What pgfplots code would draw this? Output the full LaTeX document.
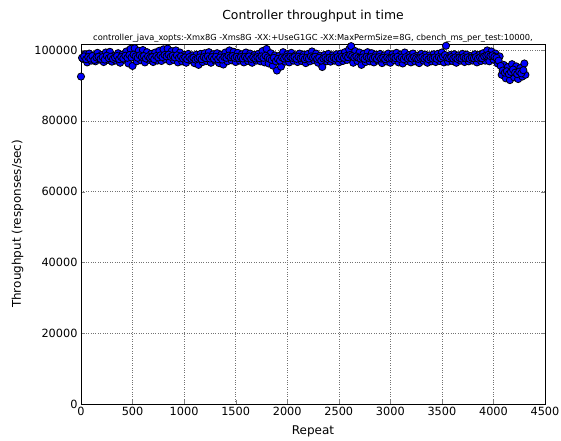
\documentclass[border=0pt]{standalone}
\usepackage{pgfplots}
\pgfplotsset{compat=1.18}
\usepackage{fontspec}
\setmainfont{DejaVu Sans}
\begin{document}
\begin{tikzpicture}
\useasboundingbox (-81pt,-36pt) rectangle (480pt,404pt);
\begin{axis}[
  at={(0,0)}, anchor=south west,
  scale only axis, width=464pt, height=360pt,
  xmin=0, xmax=4500, ymin=0, ymax=101700,
  scaled ticks=false,
  xtick={0,500,1000,1500,2000,2500,3000,3500,4000,4500},
  xticklabels={0,500,1000,1500,2000,2500,3000,3500,4000,4500},
  ytick={0,20000,40000,60000,80000,100000},
  yticklabels={0,20000,40000,60000,80000,100000},
  xticklabel style={font=\fontsize{11.3}{13}\selectfont},
  yticklabel style={font=\fontsize{11.3}{13}\selectfont},
  tick align=inside, tick pos=both,
  major tick length=4pt,
  grid=major, grid style={black!55, dotted, line width=0.5pt},
  axis line style={black, line width=0.8pt},
  xlabel={Repeat}, ylabel={Throughput (responses/sec)},
  label style={font=\fontsize{12}{14}\selectfont},
  xlabel style={yshift=-3pt},
  ylabel style={yshift=4pt},
  clip=false,
]
\addplot[only marks, mark=*, mark size=3.6pt, mark options={fill=blue, draw=black, line width=0.8pt}] coordinates {
(0,92500)(20,97500)(40,98800)(60,96500)(80,99000)(100,97000)(120,98500)(140,96800)(160,99200)(180,97300)
(200,98600)(220,96600)(240,99300)(260,97200)(280,99500)(300,96700)(320,98400)(340,97000)(360,99100)(380,96400)
(400,98700)(420,97300)(440,99600)(460,96200)(480,100300)(500,95500)(520,100500)(540,96800)(560,99800)(580,97100)
(600,100000)(620,96500)(640,99400)(660,97200)(680,98900)(700,96600)(720,99300)(740,97000)(760,99800)(780,96900)
(800,100200)(820,97400)(840,100400)(860,96800)(880,99700)(900,97200)(920,99900)(940,96500)(960,99300)(980,96800)
(1000,98600)(1020,96400)(1040,98900)(1060,97100)(1080,98500)(1100,96300)(1120,98700)(1140,95800)(1160,98900)(1180,96600)
(1200,99100)(1220,96900)(1240,99400)(1260,96400)(1280,98800)(1300,97000)(1320,99100)(1340,96300)(1360,98700)(1380,95900)
(1400,99300)(1420,96800)(1440,99900)(1460,97100)(1480,99500)(1500,96600)(1520,99200)(1540,97000)(1560,98800)(1580,96500)
(1600,99300)(1620,96900)(1640,99000)(1660,96400)(1680,98600)(1700,97000)(1720,98900)(1740,96800)(1760,99700)(1780,96500)
(1800,100300)(1820,96200)(1840,99100)(1860,95600)(1880,98500)(1900,94200)(1920,98300)(1940,95300)(1960,99400)(1980,96700)
(2000,98800)(2020,96500)(2040,99200)(2060,97000)(2080,98500)(2100,96600)(2120,99000)(2140,96900)(2160,98700)(2180,96300)
(2200,98900)(2220,96800)(2240,99600)(2260,97100)(2280,99000)(2300,96400)(2320,98400)(2340,95200)(2360,98600)(2380,96800)
(2400,98900)(2420,96700)(2440,98500)(2460,97000)(2480,98800)(2500,96500)(2520,99000)(2540,96900)(2560,99400)(2580,97200)
(2600,100200)(2620,101100)(2640,96400)(2660,99700)(2680,96900)(2700,99300)(2720,95800)(2740,98900)(2760,96600)(2780,99400)
(2800,96800)(2820,99100)(2840,96500)(2860,98700)(2880,97000)(2900,98900)(2920,96300)(2940,98500)(2960,96800)(2980,99000)
(3000,96400)(3020,98800)(3040,97100)(3060,99200)(3080,96500)(3100,98700)(3120,96200)(3140,99300)(3160,96900)(3180,98600)
(3200,96500)(3220,99000)(3240,96800)(3260,98400)(3280,96300)(3300,98900)(3320,97000)(3340,98700)(3360,96400)(3380,98500)
(3400,96800)(3420,98800)(3440,96600)(3460,98900)(3480,96900)(3500,99300)(3520,96500)(3540,101200)(3560,96700)(3580,98600)
(3600,96900)(3620,98800)(3640,96400)(3660,98500)(3680,97000)(3700,98900)(3720,96600)(3740,98700)(3760,96800)(3780,98300)
(3800,97000)(3820,98800)(3840,96500)(3860,98600)(3880,96900)(3900,99100)(3920,97000)(3940,99900)(3960,96800)(3980,99600)
(4000,97300)(4020,99000)(4040,96200)(4060,98200)(4080,93000)(4100,95800)(4120,92000)(4140,95200)(4160,91500)(4180,96000)
(4200,92300)(4220,95400)(4240,91800)(4260,94900)(4280,92500)(4300,96200)(4310,93000)
(10,97800)(30,98200)(50,97400)(70,98000)(90,97600)(110,98300)(130,97200)(150,97900)(170,98100)(190,97500)
(210,98000)(230,97300)(250,98400)(270,97700)(290,98100)(310,97500)(330,97900)(350,98300)(370,97400)(390,98000)
(410,97600)(430,98400)(450,97800)(470,98600)(490,97900)(510,98700)(530,98200)(550,97800)(570,98500)(590,98100)
(610,98300)(630,97600)(650,98200)(670,97800)(690,98000)(710,97400)(730,98300)(750,97900)(770,98500)(790,98000)
(810,98600)(830,98200)(850,98700)(870,98100)(890,98400)(910,97900)(930,98500)(950,97800)(970,98200)(990,97600)
(1010,97900)(1030,97400)(1050,98000)(1070,97500)(1090,97800)(1110,97300)(1130,97600)(1150,97900)(1170,97400)(1190,98000)
(1210,97700)(1230,98200)(1250,97600)(1270,98000)(1290,97500)(1310,98100)(1330,97400)(1350,97900)(1370,97300)(1390,98000)
(1410,97800)(1430,98400)(1450,98000)(1470,98300)(1490,97800)(1510,98100)(1530,97700)(1550,98000)(1570,97600)(1590,98100)
(1610,97800)(1630,98200)(1650,97500)(1670,97900)(1690,97600)(1710,98000)(1730,97700)(1750,98200)(1770,97800)(1790,98400)
(1810,97900)(1830,97500)(1850,97200)(1870,97800)(1890,96800)(1910,97500)(1930,97000)(1950,97900)(1970,97600)(1990,98000)
(2010,97700)(2030,98100)(2050,97800)(2070,98000)(2090,97500)(2110,98100)(2130,97700)(2150,97900)(2170,97400)(2190,97800)
(2210,97600)(2230,98200)(2250,97900)(2270,98100)(2290,97500)(2310,97800)(2330,97000)(2350,97600)(2370,97900)(2390,97500)
(2410,97800)(2430,97500)(2450,97900)(2470,97600)(2490,98000)(2510,97600)(2530,98100)(2550,97800)(2570,98300)(2590,98000)
(2610,98600)(2630,98300)(2650,97900)(2670,98200)(2690,97800)(2710,97600)(2730,97900)(2750,97500)(2770,98100)(2790,97800)
(2810,98000)(2830,97600)(2850,97900)(2870,97500)(2890,98000)(2910,97600)(2930,97800)(2950,97400)(2970,97900)(2990,97600)
(3010,97800)(3030,98000)(3050,97700)(3070,98100)(3090,97500)(3110,97900)(3130,97400)(3150,98000)(3170,97600)(3190,97900)
(3210,97600)(3230,98000)(3250,97700)(3270,97500)(3290,97800)(3310,98000)(3330,97600)(3350,97900)(3370,97400)(3390,97800)
(3410,97600)(3430,97900)(3450,97500)(3470,98000)(3490,97700)(3510,98100)(3530,98600)(3550,97900)(3570,97700)(3590,98000)
(3610,97600)(3630,97900)(3650,97500)(3670,97800)(3690,97600)(3710,98000)(3730,97700)(3750,97900)(3770,97500)(3790,97800)
(3810,97700)(3830,98000)(3850,97600)(3870,97900)(3890,97700)(3910,98200)(3930,98400)(3950,98600)(3970,98300)(3990,98500)
(4010,98100)(4030,97800)(4050,97000)(4070,95500)(4090,94200)(4110,93600)(4130,94000)(4150,93200)(4170,93800)(4190,94500)
(4210,93600)(4230,93200)(4250,93900)(4270,93400)(4290,94300)
};
\node[anchor=base, font=\fontsize{8.3}{9}\selectfont] at (rel axis cs:0.5,1) [yshift=4pt] {controller\textunderscore java\textunderscore xopts:-Xmx8G -Xms8G -XX:+UseG1GC -XX:MaxPermSize=8G, cbench\textunderscore ms\textunderscore per\textunderscore test:10000,};
\node[anchor=base, font=\fontsize{12.4}{14}\selectfont] at (rel axis cs:0.5,1) [yshift=25pt] {Controller throughput in time};
\end{axis}
\end{tikzpicture}
\end{document}
